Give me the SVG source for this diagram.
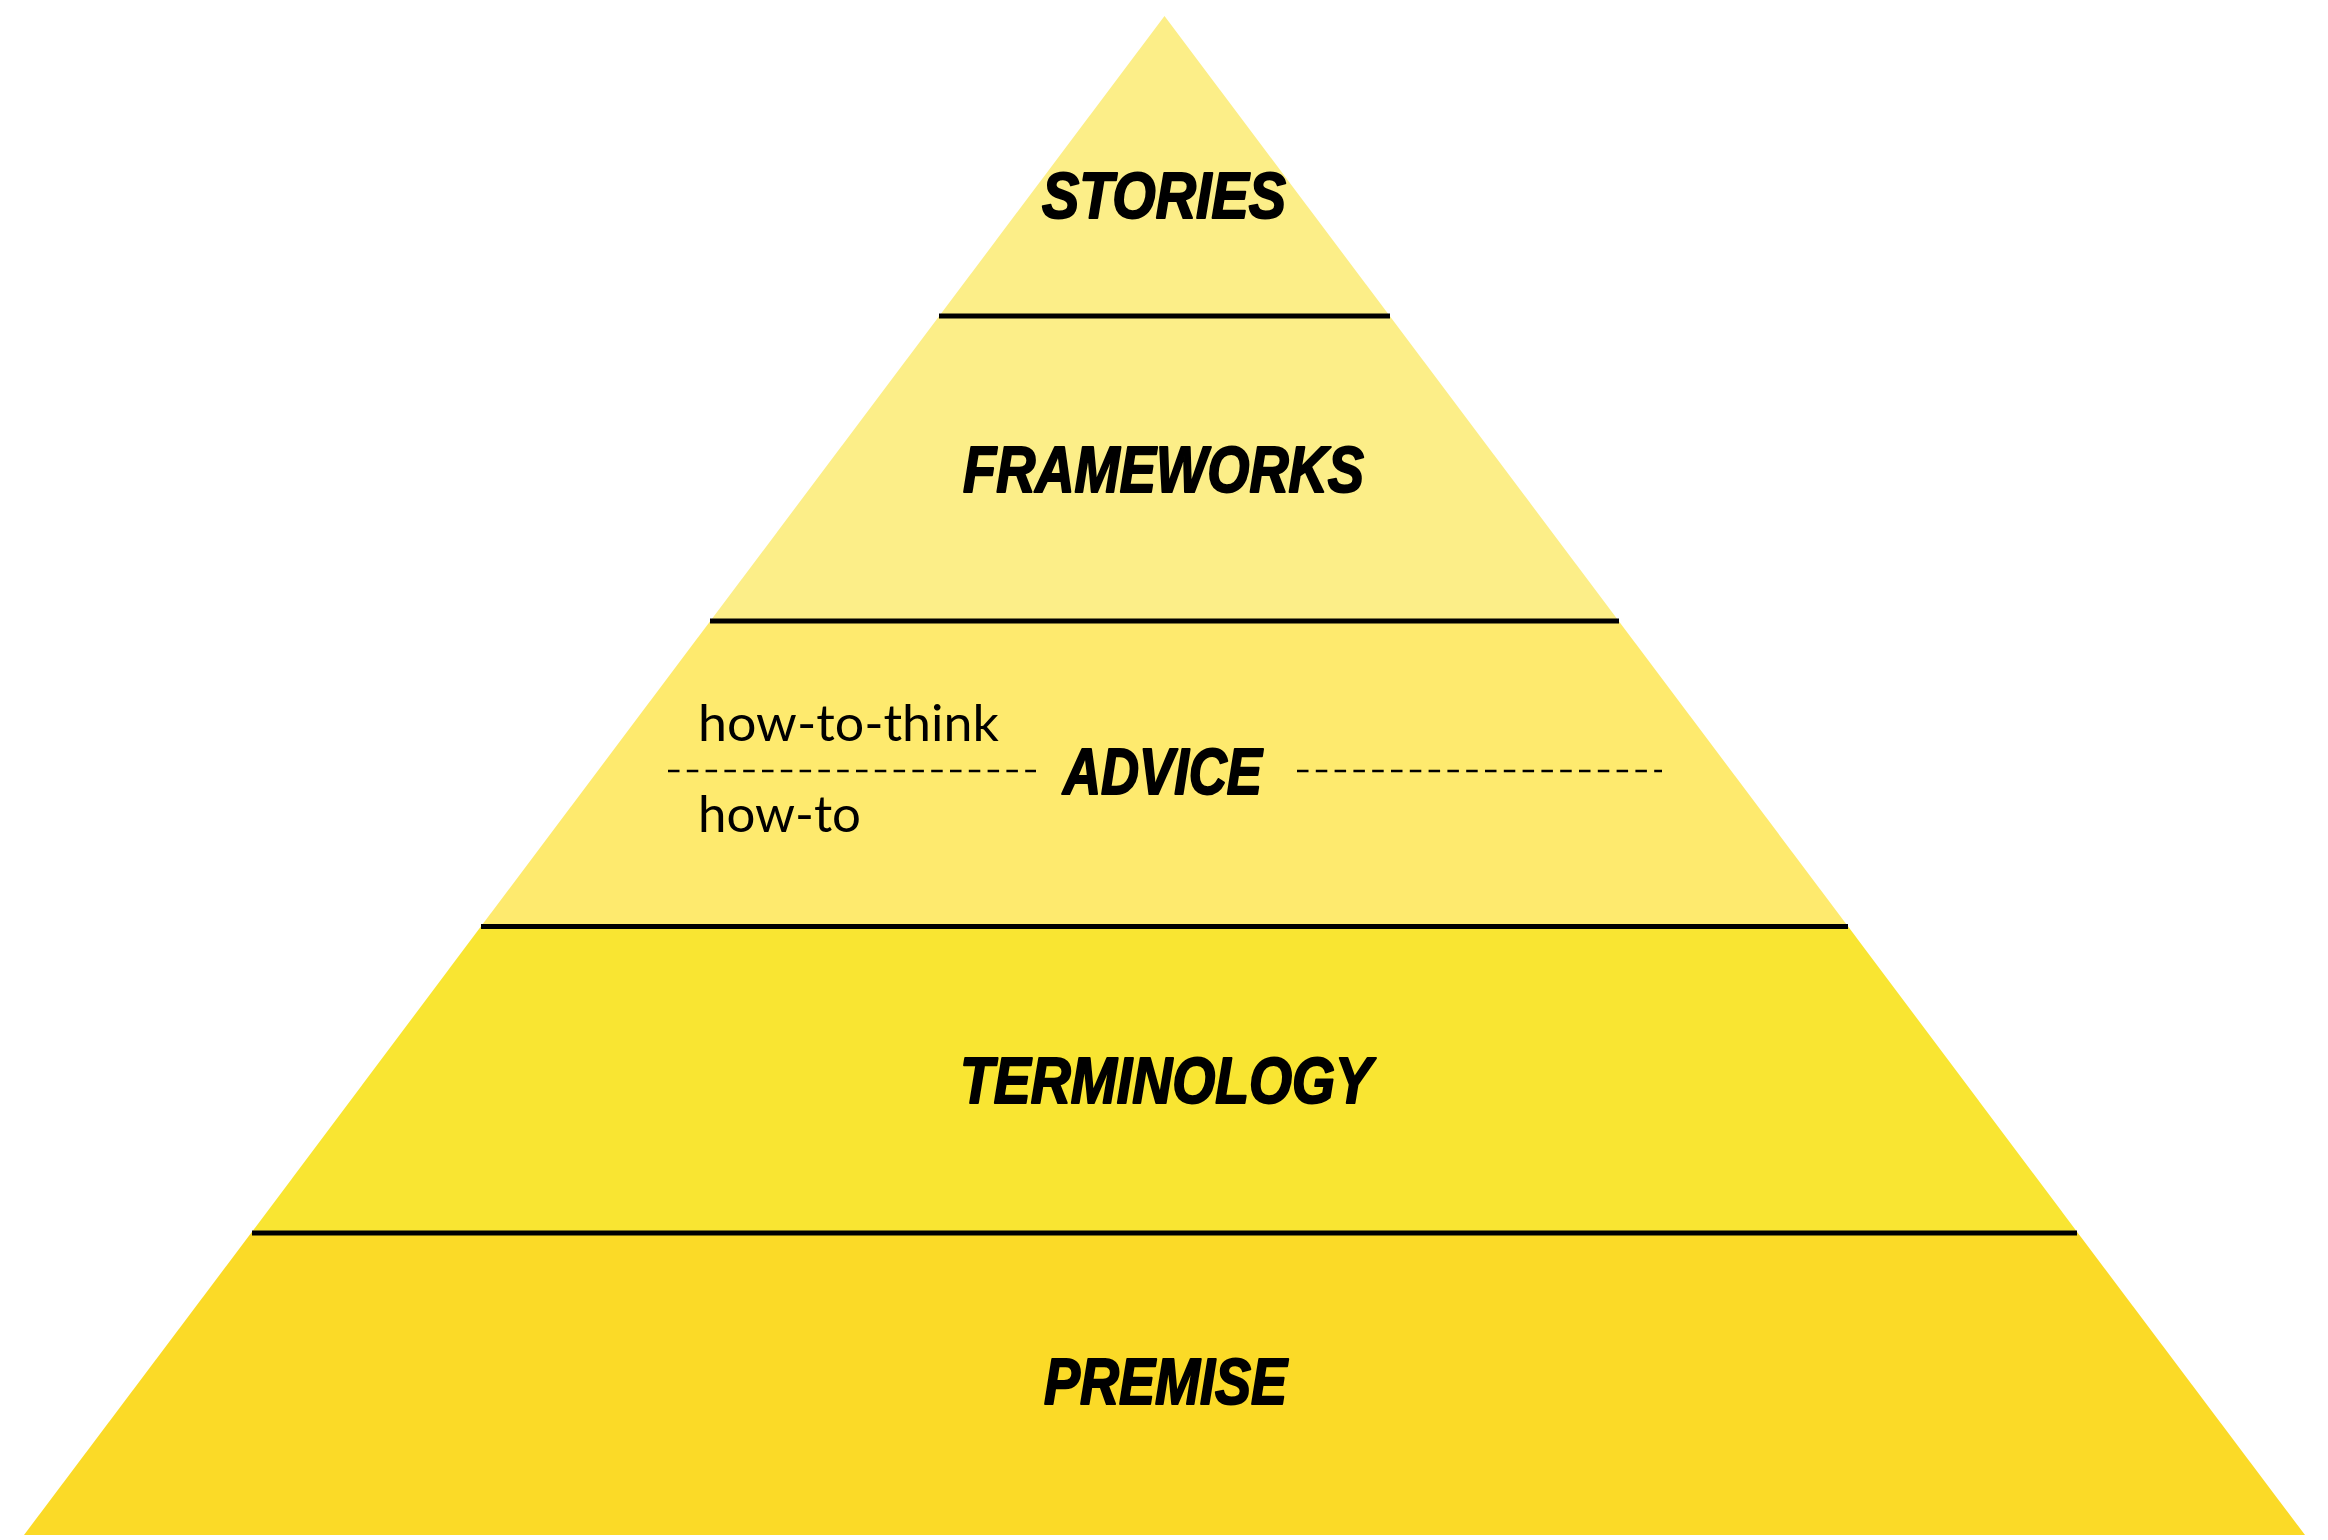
<svg xmlns="http://www.w3.org/2000/svg" width="2328" height="1540" viewBox="0 0 2328 1540">
<style>
.lbl{font-family:"Liberation Sans","DejaVu Sans",sans-serif;font-weight:bold;font-style:italic;font-size:64px;fill:#000;stroke:#000;stroke-width:2;stroke-linejoin:round}
.sub{font-family:Lato,"Open Sans",sans-serif;font-size:50px;fill:#000}
.div{stroke:#000;stroke-width:5;fill:none}
.dash{stroke:#000;stroke-width:2.5;stroke-dasharray:11.5 7.3;fill:none}
</style>
<rect width="2328" height="1540" fill="#fff"/>
<g id="stories">
<polygon points="1164.5,16 1389,315 940,315" fill="#FCEE88"/>
<text class="lbl" x="1042" y="218" textLength="244" lengthAdjust="spacingAndGlyphs">STORIES</text>
</g>
<g id="frameworks">
<polygon points="940,315 1389,315 1618.7,621 710.3,621" fill="#FCEE88"/>
<text class="lbl" x="963" y="492" textLength="401" lengthAdjust="spacingAndGlyphs">FRAMEWORKS</text>
</g>
<g id="advice">
<polygon points="710.3,621 1618.7,621 1848.1,926.5 480.9,926.5" fill="#FEEA6E"/>
<text class="lbl" x="1063" y="794" textLength="199" lengthAdjust="spacingAndGlyphs">ADVICE</text>
<text class="sub" x="698" y="741" textLength="301" lengthAdjust="spacingAndGlyphs">how-to-think</text>
<text class="sub" x="698" y="832" textLength="163" lengthAdjust="spacingAndGlyphs">how-to</text>
<line class="dash" x1="668" y1="771" x2="1036" y2="771"/>
<line class="dash" x1="1297" y1="771" x2="1662" y2="771"/>
</g>
<g id="terminology">
<polygon points="480.9,926.5 1848.1,926.5 2077.9,1233 251.1,1233" fill="#F9E532"/>
<text class="lbl" x="960" y="1103" textLength="412" lengthAdjust="spacingAndGlyphs">TERMINOLOGY</text>
</g>
<g id="premise">
<polygon points="251.1,1233 2077.9,1233 2305,1535 24,1535" fill="#FBDA27"/>
<text class="lbl" x="1044" y="1404" textLength="243" lengthAdjust="spacingAndGlyphs">PREMISE</text>
</g>
<g id="connectors">
<line class="div" x1="939" y1="316" x2="1390" y2="316"/>
<line class="div" x1="710" y1="621" x2="1619" y2="621"/>
<line class="div" x1="481" y1="926.5" x2="1848" y2="926.5"/>
<line class="div" x1="252" y1="1233" x2="2077" y2="1233"/>
</g>
</svg>
